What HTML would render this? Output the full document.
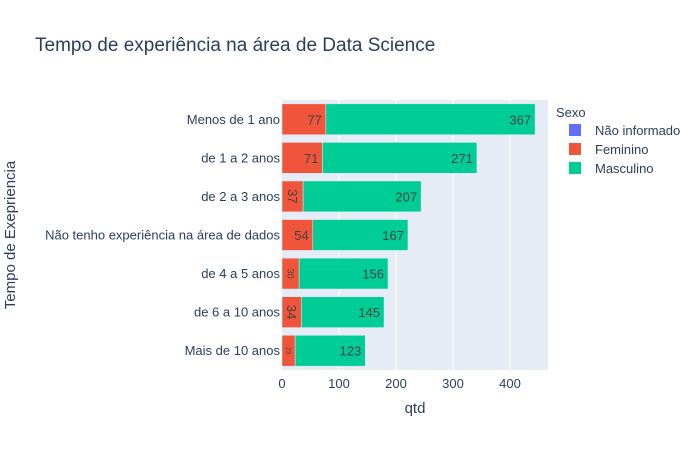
<!DOCTYPE html>
<html><head><meta charset="utf-8"><style>body{margin:0;background:#fff}svg{font-family:"Liberation Sans",sans-serif}</style></head>
<body>
<svg width="700" height="450" xmlns="http://www.w3.org/2000/svg">
<rect width="700" height="450" fill="#fff"/>
<text x="35" y="51" font-size="19" fill="#2a3f5f">Tempo de experiência na área de Data Science</text>
<rect x="282" y="100" width="266" height="270" fill="#e5ecf6"/>
<g id="grid"></g><g id="bars"></g><g id="ylab"></g><g id="xlab"></g>
<text x="415" y="413" font-size="15" fill="#2a3f5f" text-anchor="middle">qtd</text>
<text transform="translate(15,235) rotate(-90)" font-size="15" fill="#2a3f5f" text-anchor="middle">Tempo de Exepriencia</text>
<g font-size="13" fill="#2a3f5f">
<text x="556" y="117">Sexo</text>
<g><rect x="569" y="124" width="12" height="12" fill="#636efa"/><text x="595" y="135">Não informado</text></g>
<g><rect x="569" y="143" width="12" height="12" fill="#ef553b"/><text x="595" y="154">Feminino</text></g>
<g><rect x="569" y="162" width="12" height="12" fill="#00cc96"/><text x="595" y="173">Masculino</text></g>
</g>
</svg>
<script>
const categories=["Menos de 1 ano","de 1 a 2 anos","de 2 a 3 anos","Não tenho experiência na área de dados","de 4 a 5 anos","de 6 a 10 anos","Mais de 10 anos"];
const feminino=[77,71,37,54,30,34,23];
const masculino=[367,271,207,167,156,145,123];
const xTicks=[0,100,200,300,400];
const NS="http://www.w3.org/2000/svg";
const X0=282,X1=548,XMAX=466.7,Y0=100,Y1=370;
const xs=v=>X0+v/XMAX*(X1-X0);
const band=(Y1-Y0)/categories.length;
const yc=i=>Y0+band*(i+0.5);
function mk(t,a,p){const e=document.createElementNS(NS,t);for(const k in a)e.setAttribute(k,a[k]);p.appendChild(e);return e;}
const grid=document.getElementById('grid'),bars=document.getElementById('bars'),yl=document.getElementById('ylab'),xl=document.getElementById('xlab');
xTicks.forEach(v=>{
 if(v>0){const g=mk('line',{x1:xs(v),x2:xs(v),y1:Y0,y2:Y1,stroke:'#fff','stroke-width':1},grid);
 
 }
 const t=mk('text',{x:xs(v),y:388,'font-size':13,fill:'#2a3f5f','text-anchor':'middle'},xl);t.textContent=v;
 
 
});
const bh=band*0.8;
categories.forEach((c,i)=>{
 const y=yc(i);
 const t=mk('text',{x:280,y:y+4.5,'font-size':13,fill:'#2a3f5f','text-anchor':'end'},yl);t.textContent=c;
 
 
 const f=feminino[i],m=masculino[i];
 const r1=mk('rect',{x:xs(0),y:y-bh/2,width:xs(f)-xs(0),height:bh,fill:'#ef553b',stroke:'#e5ecf6','stroke-width':0.5},bars);
 
 
 const r2=mk('rect',{x:xs(f),y:y-bh/2,width:xs(f+m)-xs(f),height:bh,fill:'#00cc96',stroke:'#e5ecf6','stroke-width':0.5},bars);
 
 
 const w=xs(f)-xs(0);
 let l1;
 if(w>=29){l1=mk('text',{x:xs(f)-4,y:y+5,'font-size':13,fill:'#444','text-anchor':'end'},bars);}
 else{const fs=w>=19?13:(w>=16?9:6);l1=mk('text',{transform:`translate(${xs(0)+w/2-fs*0.35},${y}) rotate(90)`,'font-size':fs,fill:'#444','text-anchor':'middle'},bars);}
 l1.textContent=f;
 
 
 const l2=mk('text',{x:xs(f+m)-4,y:y+5,'font-size':13,fill:'#444','text-anchor':'end'},bars);l2.textContent=m;
 
 
});
</script>
</body></html>
